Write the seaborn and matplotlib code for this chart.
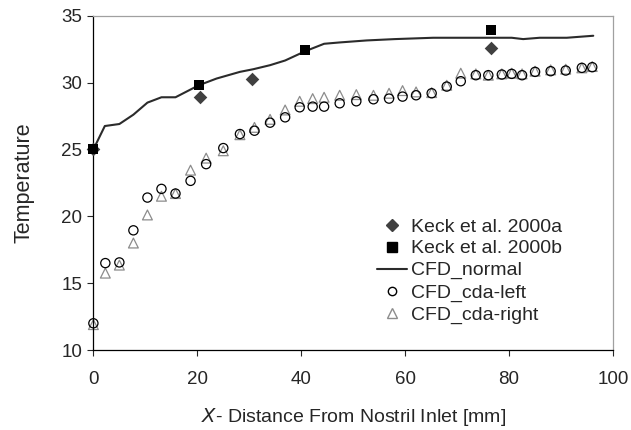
import numpy as np
import pandas as pd
import matplotlib
matplotlib.use("Agg")
import matplotlib.pyplot as plt
import seaborn as sns
from matplotlib.lines import Line2D

# Data
keck_a_x = [0.0, 20.5, 30.6, 76.5]
keck_a_y = [25.0, 28.9, 30.3, 32.6]

keck_b_x = [0.0, 20.3, 40.8, 76.5]
keck_b_y = [25.0, 29.8, 32.4, 33.9]

normal_x = [0.0, 2.2, 5.0, 7.7, 10.4, 13.1, 15.8, 20.3, 23.7, 28.2, 30.8, 34.0,
            36.9, 40.8, 44.4, 47.4, 52.6, 58.0, 65.4, 75.7, 80.5, 82.7, 85.9,
            91.1, 96.2]
normal_y = [25.0, 26.75, 26.9, 27.6, 28.5, 28.9, 28.9, 29.8, 30.3, 30.8, 31.0,
            31.3, 31.65, 32.35, 32.9, 33.0, 33.15, 33.25, 33.35, 33.35, 33.35,
            33.25, 33.35, 33.35, 33.5]

cda_x = [0.0, 2.3, 5.0, 7.7, 10.4, 13.1, 15.8, 18.7, 21.7, 25.0, 28.2, 31.0,
         34.0, 36.9, 39.7, 42.2, 44.4, 47.4, 50.6, 53.9, 56.9, 59.5, 62.1,
         65.1, 68.0, 70.7, 73.6, 76.0, 78.6, 80.5, 82.5, 85.0, 88.0, 90.9,
         94.0, 96.0]
cda_left_y = [12.0, 16.5, 16.55, 18.95, 21.4, 22.05, 21.7, 22.65, 23.9, 25.1,
              26.15, 26.4, 27.0, 27.4, 28.15, 28.2, 28.2, 28.45, 28.6, 28.75,
              28.8, 28.95, 29.05, 29.2, 29.7, 30.1, 30.55, 30.55, 30.6, 30.65,
              30.55, 30.8, 30.85, 30.9, 31.1, 31.15]
cda_right_y = [11.9, 15.75, 16.35, 18.0, 20.1, 21.5, 21.7, 23.45, 24.35, 24.9,
               26.1, 26.65, 27.25, 27.95, 28.6, 28.8, 28.9, 29.05, 29.1, 29.05,
               29.2, 29.4, 29.3, 29.25, 29.8, 30.7, 30.65, 30.55, 30.65, 30.7,
               30.65, 30.85, 30.95, 31.0, 31.1, 31.2]

sns.set_style("ticks")
plt.rcParams['font.family'] = ['Liberation Sans', 'DejaVu Sans']

fig = plt.figure(figsize=(6.31, 4.30), dpi=100)
ax = fig.add_axes([0.148, 0.186, 0.8235, 0.7775])

sns.scatterplot(x=cda_x, y=cda_right_y, marker='^', s=50,
                facecolor='none', edgecolor='#8c8c8c', linewidth=0.9, ax=ax,
                zorder=2, clip_on=False)
sns.scatterplot(x=cda_x, y=cda_left_y, marker='o', s=44,
                facecolor='none', edgecolor='black', linewidth=0.9, ax=ax,
                zorder=3, clip_on=False)
sns.lineplot(x=normal_x, y=normal_y, color='#2b2b2b', linewidth=1.5,
             sort=False, ax=ax, zorder=4)
sns.scatterplot(x=keck_a_x, y=keck_a_y, marker='D', s=48, color='#404040',
                edgecolor='#404040', linewidth=0, ax=ax, zorder=5, clip_on=False)
sns.scatterplot(x=keck_b_x, y=keck_b_y, marker='s', s=58, color='black',
                edgecolor='black', linewidth=0, ax=ax, zorder=6, clip_on=False)

ax.set_xlim(0, 100)
ax.set_ylim(10, 35)
ax.set_xticks(np.arange(0, 101, 20))
ax.set_yticks(np.arange(10, 36, 5))
ax.tick_params(axis='both', labelsize=13.5, direction='out', length=4, width=0.8)
ax.tick_params(axis='y', pad=4)
ax.tick_params(axis='x', pad=11)

for side in ['top', 'right']:
    ax.spines[side].set_color('#a0a0a0')
    ax.spines[side].set_linewidth(0.9)
for side in ['left', 'bottom']:
    ax.spines[side].set_color('black')
    ax.spines[side].set_linewidth(0.9)

ax.set_ylabel('Temperature', fontsize=15.5, labelpad=19)
ax.set_xlabel(r'$\mathit{X}$- Distance From Nostril Inlet [mm]', fontsize=14,
              labelpad=13)

handles = [
    Line2D([], [], marker='D', linestyle='none', color='#404040', markersize=6.5),
    Line2D([], [], marker='s', linestyle='none', color='black', markersize=6.5),
    Line2D([], [], color='#2b2b2b', linewidth=1.5),
    Line2D([], [], marker='o', linestyle='none', markerfacecolor='none',
           markeredgecolor='black', markersize=6),
    Line2D([], [], marker='^', linestyle='none', markerfacecolor='none',
           markeredgecolor='#8c8c8c', markersize=6.5),
]
labels = ['Keck et al. 2000a', 'Keck et al. 2000b', 'CFD_normal',
          'CFD_cda-left', 'CFD_cda-right']
ax.legend(handles, labels, loc='center left', bbox_to_anchor=(0.546, 0.237),
          frameon=False, fontsize=14, handlelength=1.55, handletextpad=0.2,
          labelspacing=0.22, borderaxespad=0, borderpad=0)

fig.savefig('out.png', dpi=100)
